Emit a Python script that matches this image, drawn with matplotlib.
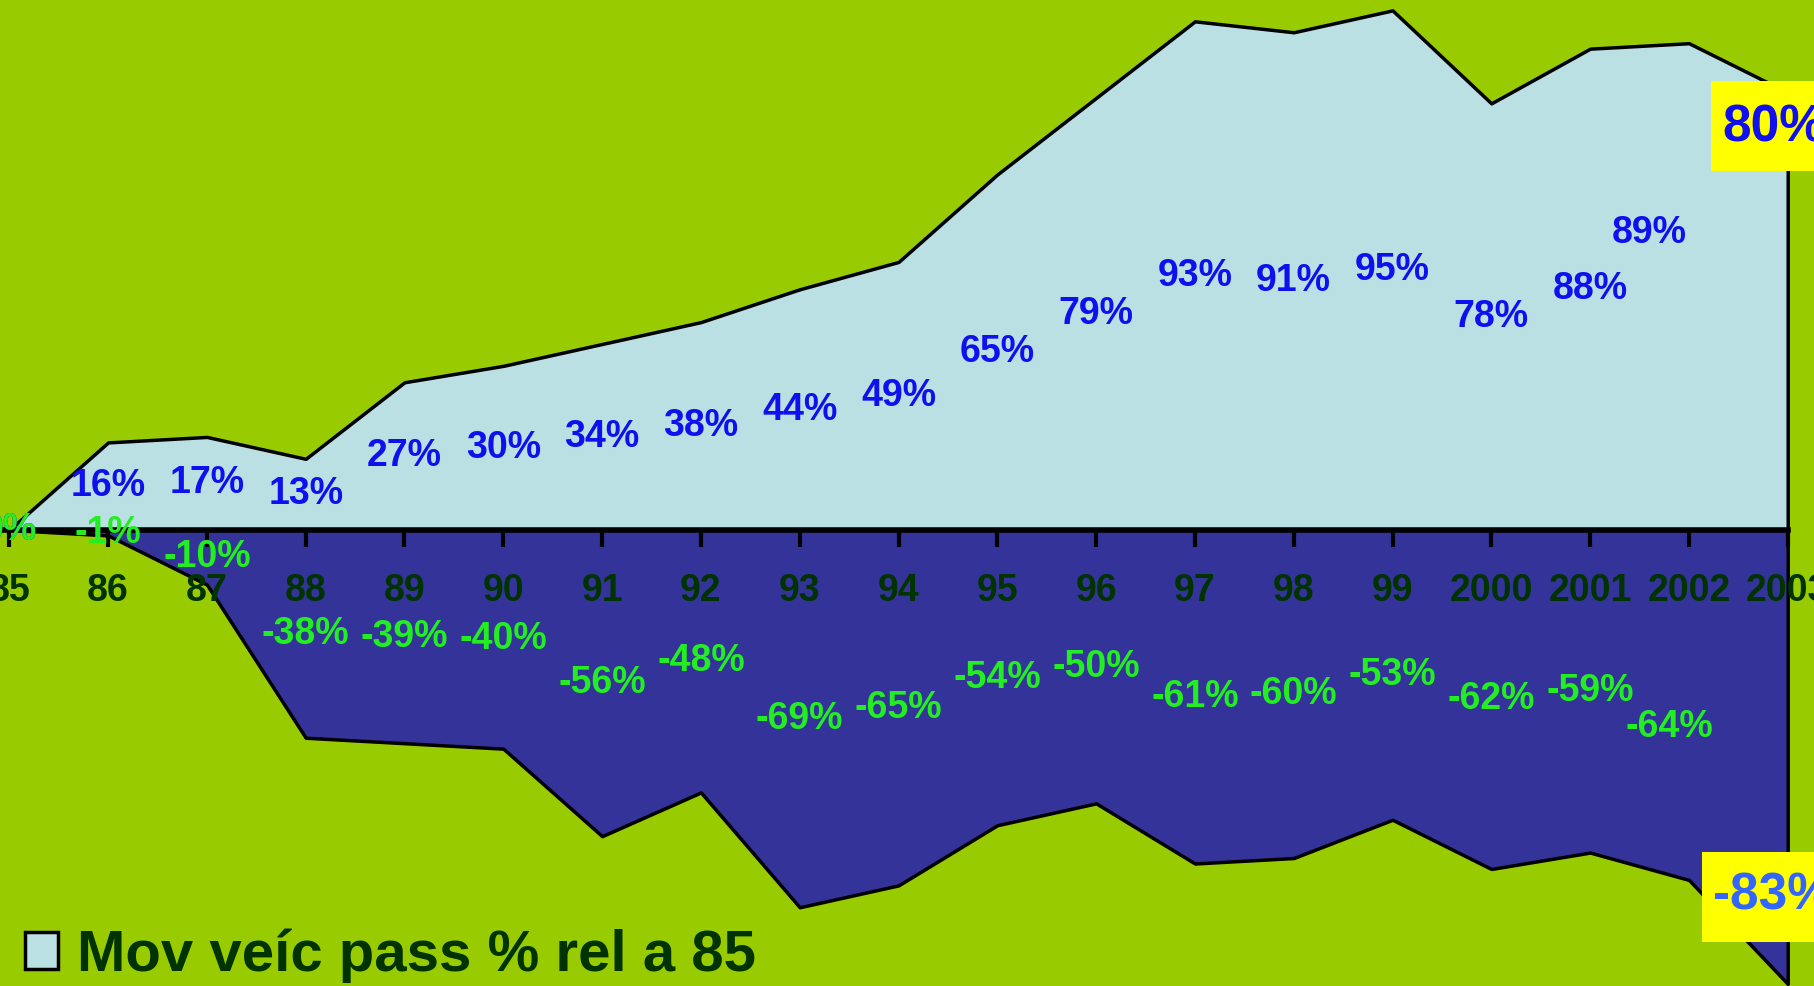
import matplotlib
matplotlib.use('Agg')

import numpy as np
import matplotlib.pyplot as plt
from matplotlib.patches import Patch, Rectangle

years = ['85', '86', '87', '88', '89', '90', '91', '92', '93', '94', '95',
         '96', '97', '98', '99', '2000', '2001', '2002', '2003']
mov_veic = [0, 16, 17, 13, 27, 30, 34, 38, 44, 49, 65,
            79, 93, 91, 95, 78, 88, 89, 80]
lower_vals = [0, -1, -10, -38, -39, -40, -56, -48, -69, -65, -54,
              -50, -61, -60, -53, -62, -59, -64, -83]
legend_label = 'Mov veíc pass % rel a 85'

BG = '#99CC00'
UP_FILL = '#BBE0E3'
LOW_FILL = '#333399'
DARK_GREEN = '#003300'

plt.rcParams['font.family'] = ['Liberation Sans', 'DejaVu Sans']

x = np.arange(len(years))

fig = plt.figure(figsize=(18.14, 9.86), dpi=100, facecolor=BG)
ax = fig.add_axes([0, 0, 1, 1], facecolor=BG)

ax.fill_between(x, 0, mov_veic, facecolor=UP_FILL, edgecolor='black', linewidth=2.5, zorder=1)
ax.fill_between(x, 0, lower_vals, facecolor=LOW_FILL, edgecolor='black', linewidth=2.5, zorder=1)

ax.set_xlim(-0.094, 18.266)
ax.set_ylim(-83.4, 96.9)

# axis at zero
for s in ['top', 'left', 'right']:
    ax.spines[s].set_visible(False)
ax.spines['bottom'].set_position(('data', 0))
ax.spines['bottom'].set_linewidth(4)
ax.spines['bottom'].set_bounds(x[0] - 0.09, x[-1])
ax.spines['bottom'].set_zorder(2)
ax.set_yticks([])
ax.set_xticks(x)
ax.set_xticklabels(years)
ax.tick_params(axis='x', direction='out', length=12, width=3, pad=19,
               labelsize=27, labelcolor=DARK_GREEN)
for t in ax.get_xticklabels():
    t.set_fontweight('bold')

# data labels in the middle of each area
for i in range(len(years) - 1):
    dx, dy = 0, 0
    if years[i] == '2002':
        dx, dy = -40, 54
    ax.annotate(f'{mov_veic[i]}%', (x[i], mov_veic[i] / 2), xytext=(dx, dy),
                textcoords='offset pixels', ha='center', va='center',
                fontsize=27, fontweight='bold', color='#1010EE', zorder=4)
for i in range(len(years) - 1):
    dx, dy = 0, 0
    if years[i] == '2002':
        dx, dy = -20, -22
    ax.annotate(f'{lower_vals[i]}%', (x[i], lower_vals[i] / 2), xytext=(dx, dy),
                textcoords='offset pixels', ha='center', va='center',
                fontsize=27, fontweight='bold', color='#22EE22', zorder=5)

# last year values in yellow boxes
ax.add_patch(Rectangle((1711 / 1814, 1 - 171 / 986), 0.08, 90 / 986,
                       transform=ax.transAxes, facecolor='yellow', edgecolor='none',
                       zorder=6, clip_on=False))
ax.text(1722 / 1814, 1 - 141 / 986, f'{mov_veic[-1]}%', transform=ax.transAxes,
        ha='left', va='baseline', fontsize=37, fontweight='bold', color='#1010EE', zorder=7)
ax.add_patch(Rectangle((1702 / 1814, 1 - 942 / 986), 0.08, 90 / 986,
                       transform=ax.transAxes, facecolor='yellow', edgecolor='none',
                       zorder=6, clip_on=False))
ax.text(1713 / 1814, 1 - 910 / 986, f'{lower_vals[-1]}%', transform=ax.transAxes,
        ha='left', va='baseline', fontsize=37, fontweight='bold', color='#3366FF', zorder=7)


def make_legend(size):
    fs_px = size * 100 / 72
    lg = ax.legend(handles=[Patch(facecolor=UP_FILL, edgecolor='black', linewidth=2.5)],
                   labels=[legend_label], loc='lower left',
                   bbox_to_anchor=(25 / 1814, 0.003), frameon=False,
                   borderpad=0, borderaxespad=0,
                   handlelength=33 / fs_px, handleheight=34 / fs_px,
                   handletextpad=19 / fs_px,
                   prop={'family': 'Liberation Sans', 'weight': 'bold', 'size': size})
    for t in lg.get_texts():
        t.set_color(DARK_GREEN)
    lg.set_zorder(8)
    return lg


# size the legend text so it spans the same width as the original (~677 px)
leg_size = 40
leg = make_legend(leg_size)
fig.canvas.draw()
w = leg.get_texts()[0].get_window_extent().width
leg_size = leg_size * 677 / w
leg = make_legend(leg_size)

fig.savefig('out.png', dpi=100, facecolor=BG)
